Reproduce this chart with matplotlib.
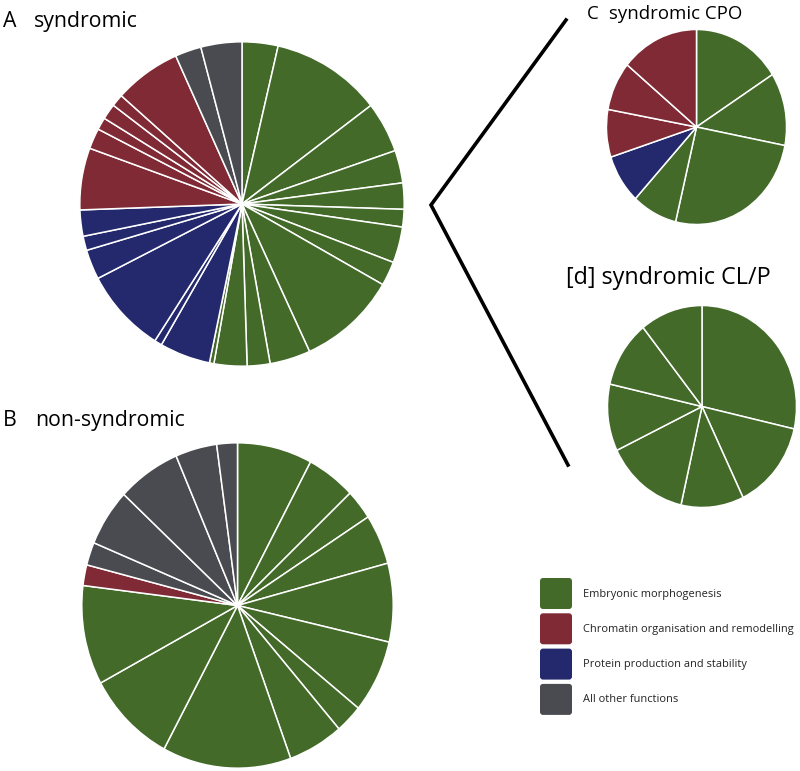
import numpy as np
import matplotlib
matplotlib.use("Agg")
import matplotlib.pyplot as plt
from matplotlib.patches import FancyBboxPatch

plt.rcParams["font.family"] = ["Open Sans", "DejaVu Sans"]

# category order used by the pies and the legend
categories = [
    "Embryonic morphogenesis",
    "Chromatin organisation and remodelling",
    "Protein production and stability",
    "All other functions",
]
cat_colors = ["#436a29", "#802a35", "#24296e", "#4a4b50"]

# slice sizes (clockwise from 12 o'clock)
syn_sizes = [12.9, 39.7, 18.2, 11.7, 9.4, 6.3, 12.9, 8.7, 35.6, 14.6, 8.2, 11.8, 1.6,
             18.2, 2.7, 30.2, 10.7, 5.1, 9.4,
             22.2, 7.4, 4.4, 5.6, 4.4, 24.0,
             9.4, 14.7]
syn_groups = [0] * 13 + [2] * 6 + [1] * 6 + [3] * 2

nonsyn_sizes = [28.0, 18.3, 10.7, 17.9, 28.1, 26.1, 10.2, 20.7, 48.1, 33.4, 35.5,
                7.4,
                8.2, 20.4, 23.7, 15.5, 7.7]
nonsyn_groups = [0] * 11 + [1] + [3] * 5

cpo_sizes = [57.5, 43.5, 92.5, 29.3, 29.3, 28.4, 29.2, 50.4]
cpo_groups = [0, 0, 0, 0, 2, 1, 1, 1]

clp_sizes = [8, 4, 3, 4, 3, 3, 3]
clp_groups = [0] * 7

W, H = 800, 771
fig = plt.figure(figsize=(W / 100, H / 100), dpi=100)


def px_axes(left, top, width, height):
    # axes placed in pixel units, measured from the top-left corner
    return fig.add_axes([left / W, 1 - (top + height) / H, width / W, height / H])


def draw_pie(box, sizes, groups):
    ax = px_axes(*box)
    ax.pie(sizes, colors=[cat_colors[g] for g in groups], startangle=90,
           counterclock=False, radius=1,
           wedgeprops=dict(edgecolor="white", linewidth=1.1))
    ax.set_aspect("auto")
    ax.set_xlim(-1.005, 1.005)
    ax.set_ylim(-1.005, 1.005)
    ax.axis("off")
    return ax


draw_pie((79, 41, 326, 326), syn_sizes, syn_groups)
draw_pie((81, 442, 313, 327), nonsyn_sizes, nonsyn_groups)
draw_pie((606, 29, 181, 196), cpo_sizes, cpo_groups)
draw_pie((607, 305, 190, 203), clp_sizes, clp_groups)

# overlay for titles, connector lines and legend
ov = fig.add_axes([0, 0, 1, 1])
ov.set_xlim(0, W)
ov.set_ylim(H, 0)
ov.axis("off")
ov.patch.set_alpha(0)

big = dict(fontsize=15.3, color="black", va="baseline")
small = dict(fontsize=13.4, color="black", va="baseline")
ov.text(3, 27, "A", **big)
ov.text(34, 27, "syndromic", **big)
ov.text(3, 426, "B", **big)
ov.text(35, 426, "non-syndromic", **big)
ov.text(587, 19, "C", **small)
ov.text(609, 19, "syndromic CPO", **small)
ov.text(566, 284, "[d] syndromic CL/P", fontsize=16.8, color="black", va="baseline")

ov.plot([566, 431, 568], [20, 205, 465], color="black", lw=2.6,
        solid_joinstyle="miter")

for i, (label, col) in enumerate(zip(categories, cat_colors)):
    y0 = 577 + i * 35.3
    ov.add_patch(FancyBboxPatch((540, y0 + 1), 32, 31,
                                boxstyle="round,pad=0,rounding_size=3",
                                facecolor=col, edgecolor="none"))
    ov.text(583, y0 + 17, label, fontsize=7.9, va="center", color="#222222")

fig.savefig("out.png", dpi=100)
